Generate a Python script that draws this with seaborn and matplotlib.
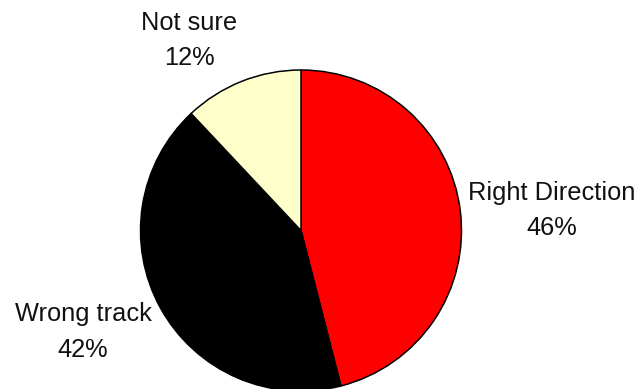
import matplotlib
matplotlib.use("Agg")
import matplotlib.pyplot as plt
import seaborn as sns

# Survey responses
categories = ["Right Direction", "Wrong track", "Not sure"]
shares = [46, 42, 12]
colors = ["#FF0000", "#000000", "#FFFFCC"]

sns.set_theme(style="white")
plt.rcParams["font.family"] = ["Liberation Sans", "DejaVu Sans"]

W, H = 641, 389
fig = plt.figure(figsize=(W / 100, H / 100), dpi=100)
ax = fig.add_axes([0, 0, 1, 1])

cx, cy, r = 301, H - 230.5, 160.5
ax.pie(shares, colors=colors, startangle=90, counterclock=False,
       center=(cx, cy), radius=r, frame=True,
       wedgeprops=dict(edgecolor="black", linewidth=1.1))
ax.set_xlim(0, W)
ax.set_ylim(0, H)
ax.set_aspect("equal")
ax.axis("off")

# label anchors (pixels from top-left): name line, percent line
label_pos = {
    "Right Direction": (552, 193, 228),
    "Wrong track": (83, 314, 350),
    "Not sure": (189, 23, 58),
}
for name, val in zip(categories, shares):
    x, y1, y2 = label_pos[name]
    ax.text(x, H - y1, name, ha="center", va="center", fontsize=18.3, color="#111111")
    ax.text(x, H - y2, f"{val}%", ha="center", va="center", fontsize=18.3, color="#111111")

fig.savefig("out.png", dpi=100, facecolor="white")
